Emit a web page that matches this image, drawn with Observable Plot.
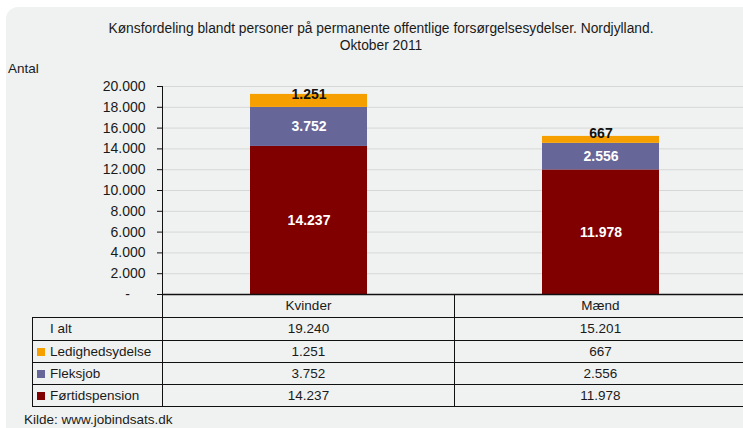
<!DOCTYPE html>
<html><head><meta charset="utf-8">
<script src="https://cdn.jsdelivr.net/npm/d3@7"></script>
<script src="https://cdn.jsdelivr.net/npm/@observablehq/plot@0.6"></script>
<style>
body{margin:0;background:#fff;overflow:hidden;font-family:"Liberation Sans",Arial,sans-serif;color:#1a1a1a;}
#wrap{position:relative;width:820px;height:428px;overflow:hidden;background:#fff;}
#panel{position:absolute;left:6px;top:7px;width:860px;height:500px;background:#f0f2f1;border-radius:12px 0 0 0;}
#title{position:absolute;left:0;width:762px;top:20px;text-align:center;font-size:13.8px;line-height:17px;}
#antal{position:absolute;left:8px;top:61px;font-size:13.5px;}
#chart{position:absolute;left:0;top:60px;}
#tbl{position:absolute;left:32px;top:294px;border-collapse:collapse;table-layout:fixed;font-size:13.5px;}
#tbl td{padding:0;border:1px solid #111;text-align:center;}
#tbl td.lab{text-align:left;padding-left:4px;}
#tbl td.blank{border:none;}
.sw{display:inline-block;width:8px;height:8px;margin-right:5px;vertical-align:0px;}
#kilde{position:absolute;left:24px;top:412px;font-size:13.5px;}
</style></head>
<body>
<div id="wrap">
<div id="panel"></div>
<div id="title">Kønsfordeling blandt personer på permanente offentlige forsørgelsesydelser. Nordjylland.<br>Oktober 2011</div>
<div id="antal">Antal</div>
<div id="chart"></div>
<table id="tbl"></table>
<div id="kilde">Kilde: www.jobindsats.dk</div>
</div>
<script>
const categories = ["Kvinder", "Mænd"];
const series = ["Førtidspension", "Fleksjob", "Ledighedsydelse"];
const fortidspension = [14237, 11978];
const fleksjob = [3752, 2556];
const ledighedsydelse = [1251, 667];
const iAlt = [19240, 15201];
const seriesColors = ["#800000", "#666699", "#F5A000"];
const yTicks = [0, 2000, 4000, 6000, 8000, 10000, 12000, 14000, 16000, 18000, 20000];

const dk = d3.formatLocale({decimal: ",", thousands: ".", grouping: [3], currency: ["", ""]});
const fmt = dk.format(",d");
const values = [fortidspension, fleksjob, ledighedsydelse];
const data = [];
series.forEach((s, i) => categories.forEach((c, j) => data.push({cat: c, series: s, value: values[i][j]})));
const topSeries = "Ledighedsydelse";

const ML = 162, W = 750, MR = 4;
const chart = Plot.plot({
  width: W, height: 257,
  marginLeft: ML, marginRight: MR, marginTop: 26, marginBottom: 23,
  style: {background: "transparent", fontFamily: "Liberation Sans, Arial, sans-serif", fontSize: "14px", color: "#1a1a1a"},
  x: {domain: categories, paddingInner: 0.6, paddingOuter: 0.3, axis: null},
  y: {domain: [0, 20000], ticks: yTicks, label: null},
  color: {domain: series, range: seriesColors},
  marks: [
    Plot.ruleY(yTicks.filter(d => d > 0), {stroke: "#d6d8d7", strokeWidth: 1}),
    Plot.barY(data, {x: "cat", y: "value", fill: "series", order: series}),
    Plot.text(data, Plot.stackY({x: "cat", y: "value", z: "series", order: series, text: d => d.series === topSeries ? null : fmt(d.value), fill: "white", fontWeight: "bold", fontSize: 14})),
    Plot.text(data, Plot.stackY({x: "cat", y: "value", z: "series", order: series, text: d => d.series === topSeries ? fmt(d.value) : null, fill: "#111", fontWeight: "bold", fontSize: 14, dy: -6})),
    Plot.ruleY([0], {stroke: "#111", strokeWidth: 1.5}),
    Plot.frame({anchor: "left", stroke: "#111"}),
    Plot.axisY({ticks: yTicks, tickSize: 5, tickPadding: 12, tickFormat: d => d === 0 ? "-\u00a0\u00a0\u00a0\u00a0" : fmt(d), fontSize: 14, label: null, stroke: "#111"})
  ]
});
document.getElementById("chart").appendChild(chart);

// table below the plot: columns aligned to the x band scale
const xs = chart.scale("x");
const step = xs.step;
const firstW = ML - 32;
const tbl = document.getElementById("tbl");
tbl.style.width = (firstW + step * categories.length) + "px";
let html = `<colgroup><col style="width:${firstW}px">` + categories.map(() => `<col style="width:${step}px">`).join("") + `</colgroup>`;
html += `<tr style="height:23px"><td class="blank"></td>` +
  categories.map(c => `<td style="border-top:none">${c}</td>`).join("") + `</tr>`;
const rows = [["I alt", null, iAlt], ["Ledighedsydelse", seriesColors[2], ledighedsydelse], ["Fleksjob", seriesColors[1], fleksjob], ["Førtidspension", seriesColors[0], fortidspension]];
rows.forEach((r, i) => {
  const h = i === 0 ? 23 : 22;
  const lab = r[1] ? `<span class="sw" style="background:${r[1]}"></span>${r[0]}` : `<span style="padding-left:13px">${r[0]}</span>`;
  html += `<tr style="height:${h}px"><td class="lab">${lab}</td>` + r[2].map(v => `<td>${fmt(v)}</td>`).join("") + `</tr>`;
});
tbl.innerHTML = html;
</script>
</body></html>
